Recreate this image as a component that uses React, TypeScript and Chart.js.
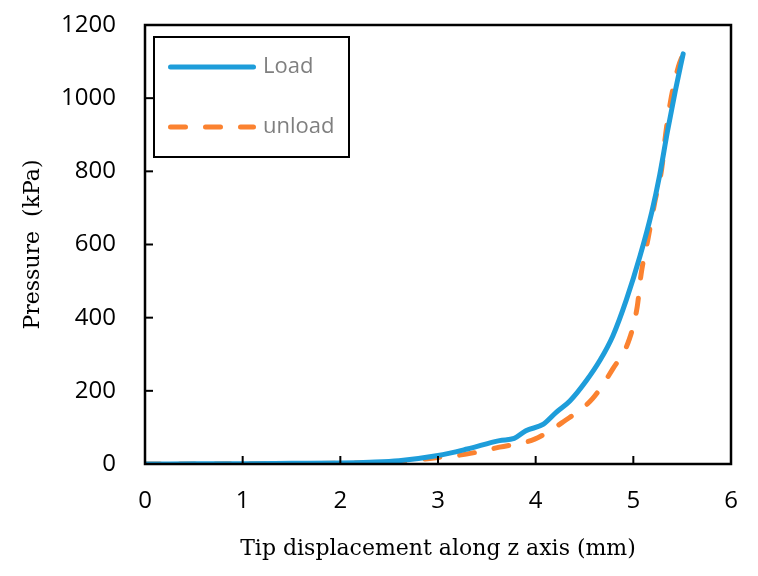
import React, { useEffect, useRef } from "react";
import { Chart, registerables } from "chart.js";

Chart.register(...registerables);

const loadX = [0, 0.5, 1, 1.5, 2, 2.3, 2.6, 3.0, 3.3, 3.63, 3.78, 3.9, 4.08, 4.21, 4.35, 4.52, 4.66, 4.79, 4.93, 5.07, 5.19, 5.27, 5.35, 5.43, 5.51];
const loadY = [0, 0.5, 1, 2, 3, 5, 9, 23, 41, 64, 70, 91, 109, 141, 172, 228, 284, 350, 450, 570, 690, 790, 910, 1020, 1121];

const unloadX = [0, 1, 2, 2.5, 2.94, 3.29, 3.63, 3.99, 4.28, 4.58, 4.79, 4.96, 5.04, 5.08, 5.15, 5.22, 5.29, 5.33, 5.38, 5.46, 5.51];
const unloadY = [0, 0.5, 2, 5, 16, 27, 46, 68, 115, 178, 260, 342, 430, 520, 615, 716, 806, 900, 990, 1085, 1121];

const xTicks = [0, 1, 2, 3, 4, 5, 6];
const yTicks = [0, 200, 400, 600, 800, 1000, 1200];

const seriesNames = ["Load", "unload"];
const seriesColors = ["#1e9dda", "#fb8230"];

const frameAndLegend = {
  id: "frameAndLegend",
  afterDatasetsDraw(chart: any) {
    const { ctx, chartArea, scales } = chart;
    const { left, right, top, bottom } = chartArea;
    ctx.save();
    ctx.strokeStyle = "#000";
    ctx.lineWidth = 2.5;
    ctx.strokeRect(left, top, right - left, bottom - top);
    ctx.lineWidth = 2;
    xTicks.forEach((v) => {
      const px = scales.x.getPixelForValue(v);
      ctx.beginPath();
      ctx.moveTo(px, bottom);
      ctx.lineTo(px, bottom - 8);
      ctx.stroke();
    });
    yTicks.forEach((v) => {
      const py = scales.y.getPixelForValue(v);
      ctx.beginPath();
      ctx.moveTo(left, py);
      ctx.lineTo(left + 8, py);
      ctx.stroke();
    });
    // legend
    const lx = 154, ly = 37, lw = 195, lh = 120;
    ctx.fillStyle = "#fff";
    ctx.fillRect(lx, ly, lw, lh);
    ctx.strokeStyle = "#000";
    ctx.lineWidth = 2;
    ctx.strokeRect(lx, ly, lw, lh);
    const rows = [67, 127];
    rows.forEach((ry, i) => {
      ctx.beginPath();
      ctx.strokeStyle = seriesColors[i];
      ctx.lineWidth = 5;
      ctx.lineCap = "round";
      if (i === 1) ctx.setLineDash([15, 20]);
      else ctx.setLineDash([]);
      ctx.moveTo(170.5, ry);
      ctx.lineTo(253.5, ry);
      ctx.stroke();
      ctx.setLineDash([]);
      ctx.fillStyle = "#7f7f7f";
      ctx.font = "22px 'Open Sans'";
      ctx.textAlign = "left";
      ctx.textBaseline = "middle";
      ctx.fillText(seriesNames[i], 263, ry);
    });
    ctx.restore();
  },
};

export default function App() {
  const ref = useRef<HTMLCanvasElement | null>(null);
  useEffect(() => {
    if (!ref.current) return;
    const chart = new Chart(ref.current, {
      type: "line",
      data: {
        datasets: [
          {
            label: seriesNames[0],
            data: loadX.map((x, i) => ({ x, y: loadY[i] })),
            borderColor: seriesColors[0],
            borderWidth: 5,
            pointRadius: 0,
            cubicInterpolationMode: "monotone",
            borderCapStyle: "round",
            borderJoinStyle: "round",
          },
          {
            label: seriesNames[1],
            data: unloadX.map((x, i) => ({ x, y: unloadY[i] })),
            borderColor: seriesColors[1],
            borderWidth: 5,
            borderDash: [15, 20],
            pointRadius: 0,
            cubicInterpolationMode: "monotone",
            borderCapStyle: "round",
            borderJoinStyle: "round",
          },
        ],
      },
      options: {
        animation: false,
        responsive: false,
        layout: { padding: { left: 0, top: 25, right: 27, bottom: 0 } },
        plugins: { legend: { display: false }, tooltip: { enabled: false } },
        scales: {
          x: {
            type: "linear",
            min: 0,
            max: 6,
            afterBuildTicks: (s: any) => {
              s.ticks = xTicks.map((v) => ({ value: v }));
            },
            afterFit: (s: any) => {
              s.height = 112;
              s.paddingLeft = 0;
              s.paddingRight = 0;
            },
            grid: { display: false },
            border: { display: false },
            ticks: {
              color: "#000",
              padding: 15,
              font: { family: "'Open Sans'", size: 24 },
              maxRotation: 0,
              callback: (v: any) => String(v),
            },
            title: {
              display: true,
              text: "Tip displacement along z axis (mm)",
              color: "#000",
              font: { family: "'DejaVu Serif'", size: 22 },
              padding: { top: 4, bottom: 14 },
            },
          },
          y: {
            type: "linear",
            min: 0,
            max: 1200,
            afterBuildTicks: (s: any) => {
              s.ticks = yTicks.map((v) => ({ value: v }));
            },
            afterFit: (s: any) => {
              s.width = 145;
              s.paddingTop = 0;
              s.paddingBottom = 0;
            },
            grid: { display: false },
            border: { display: false },
            ticks: {
              color: "#000",
              padding: 21,
              font: { family: "'Open Sans'", size: 24 },
              callback: (v: any) => String(v),
            },
            title: {
              display: true,
              text: "Pressure  (kPa)",
              color: "#000",
              font: { family: "'DejaVu Serif'", size: 22 },
              padding: { bottom: 0, top: 20 },
            },
          },
        },
      },
      plugins: [frameAndLegend],
    });
    return () => chart.destroy();
  }, []);
  return (
    <div style={{ position: "fixed", left: 0, top: 0, width: 758, height: 576, background: "#fff" }}>
      <canvas ref={ref} width={758} height={576} style={{ width: 758, height: 576 }} />
    </div>
  );
}
